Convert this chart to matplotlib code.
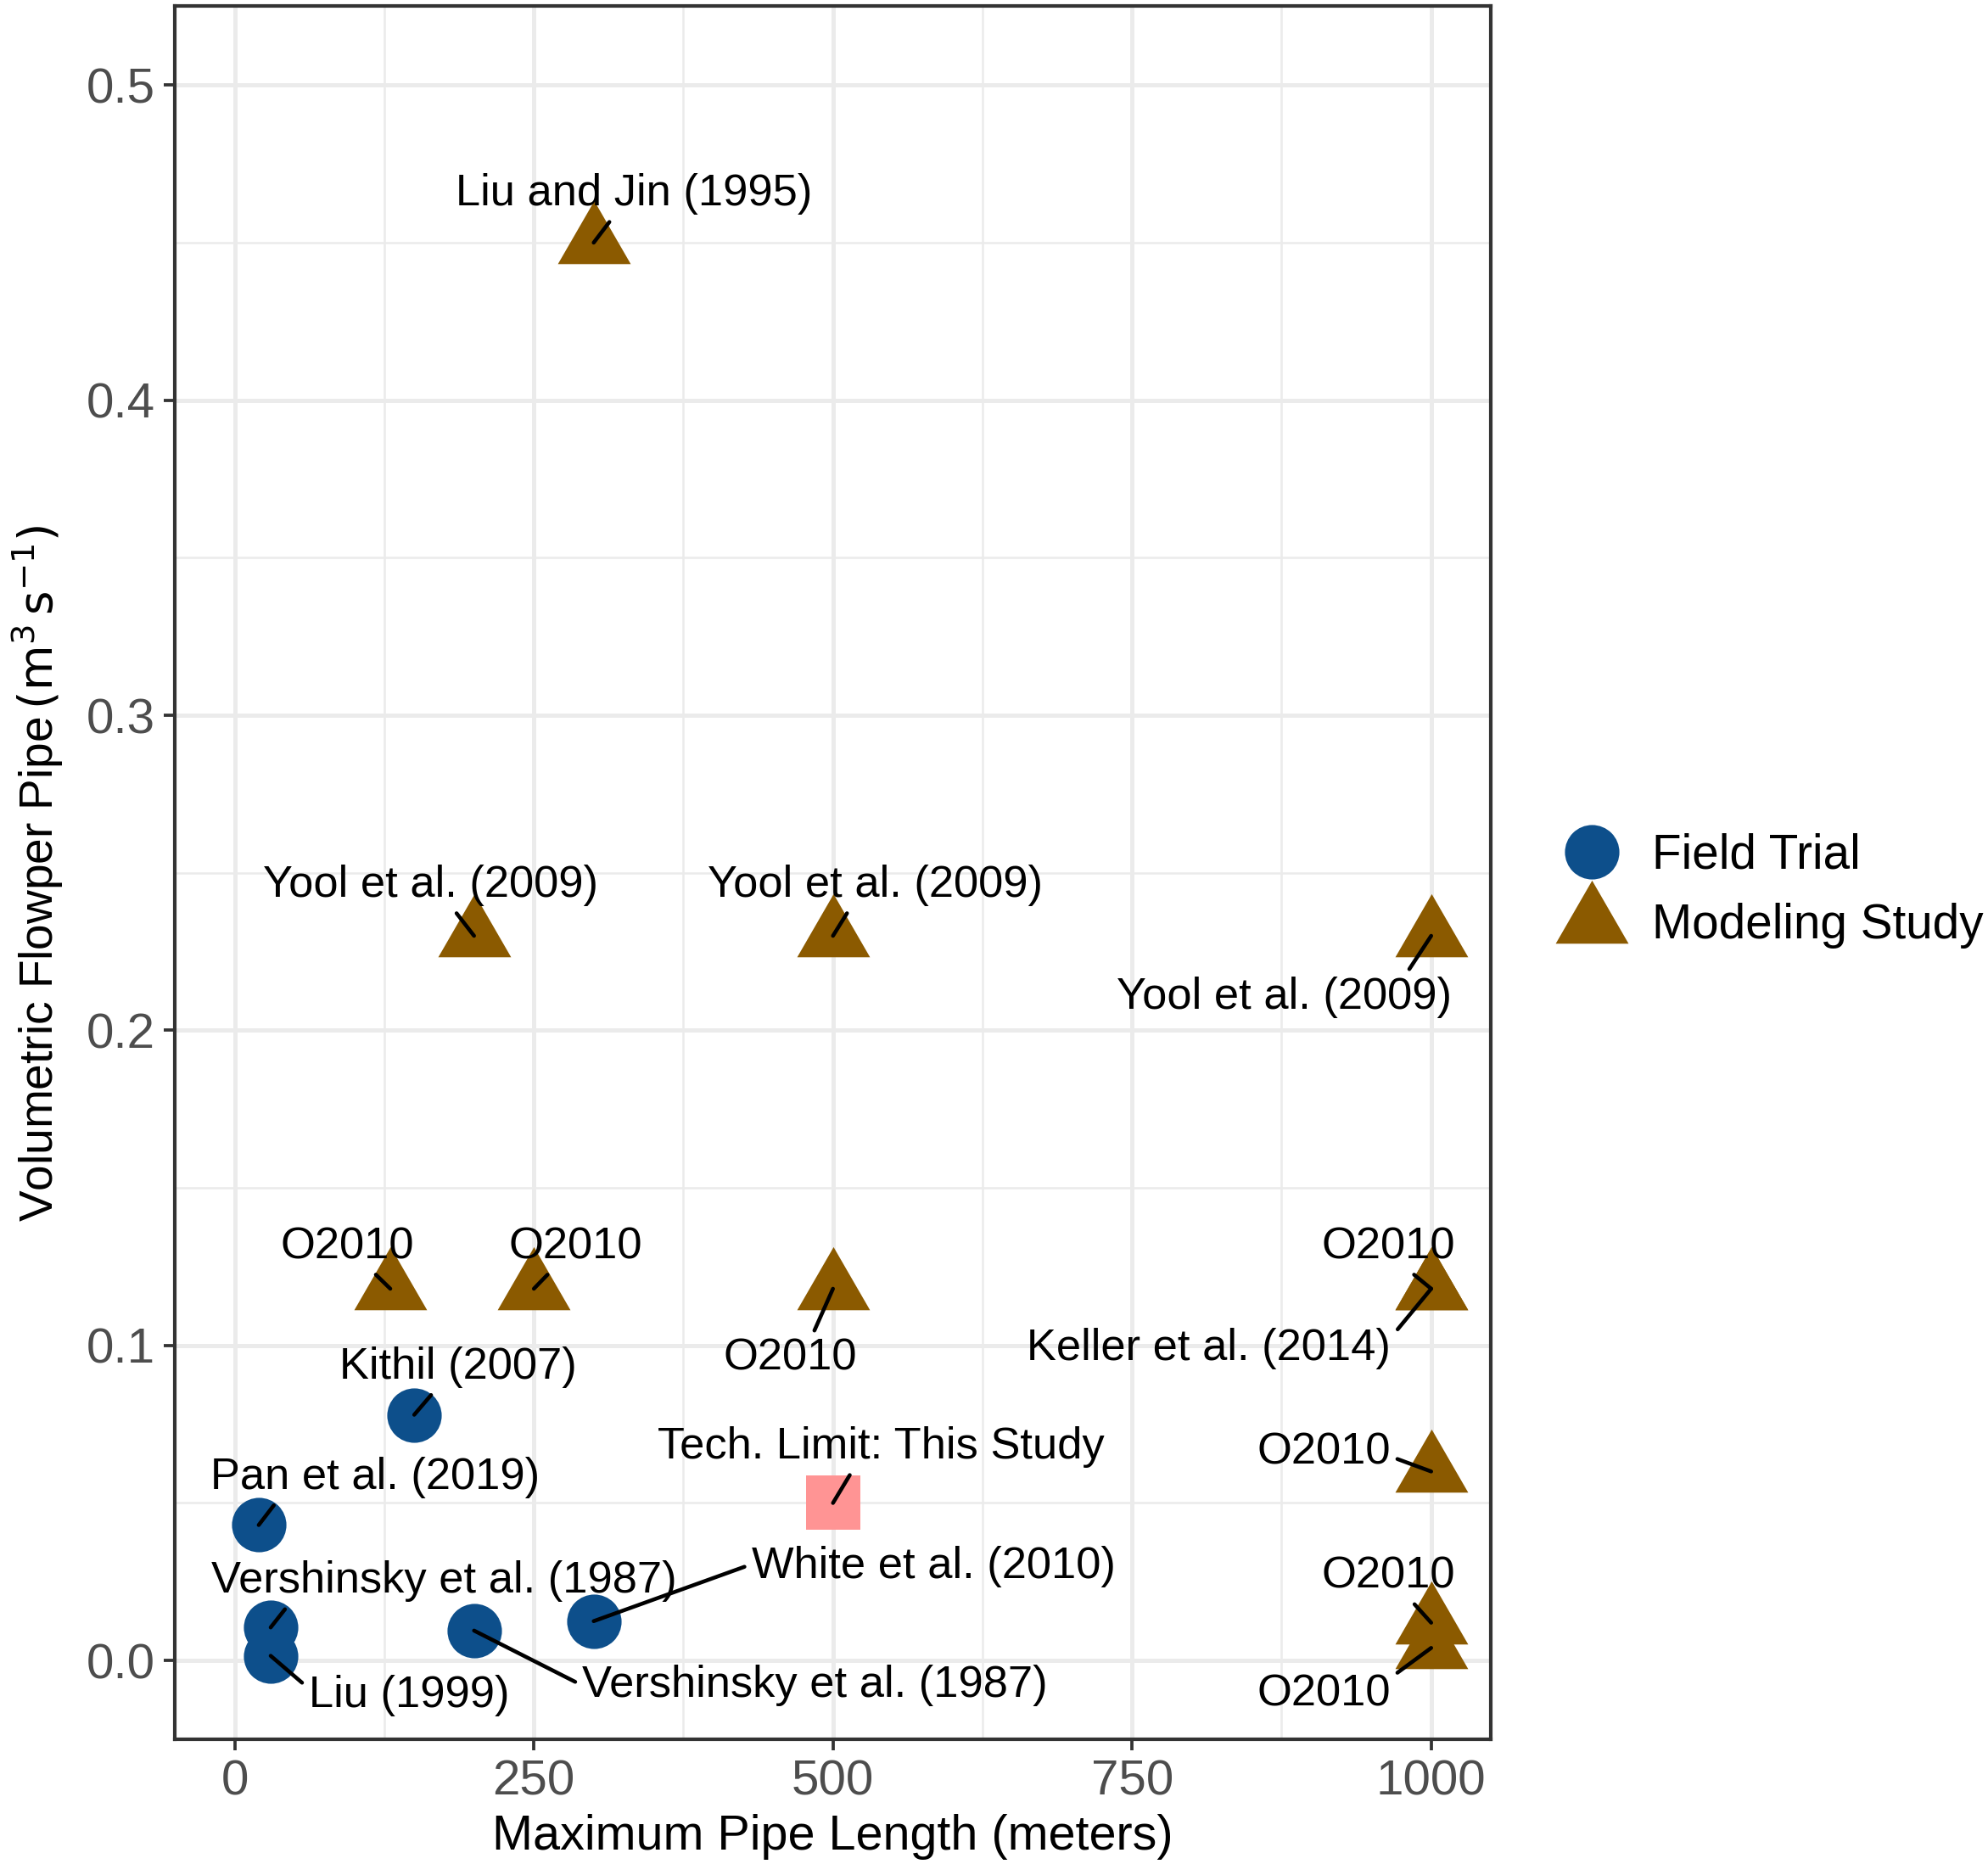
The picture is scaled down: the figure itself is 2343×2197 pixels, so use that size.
"""
Pipe flow vs. pipe length scatter with repelled-style labels,
redrawn in matplotlib.
"""

import matplotlib.pyplot as plt
from matplotlib.lines import Line2D
from matplotlib.ticker import MultipleLocator

plt.rcParams["font.family"] = ["Liberation Sans", "DejaVu Sans"]

# --- data -------------------------------------------------------------
field_x = [20, 150, 30, 30, 200, 300]
field_y = [0.043, 0.078, 0.0105, 0.0015, 0.0095, 0.0125]
field_labels = ["Pan et al. (2019)", "Kithil (2007)", "Vershinsky et al. (1987)",
                "Liu (1999)", "Vershinsky et al. (1987)", "White et al. (2010)"]

model_x = [300, 200, 500, 1000, 130, 250, 500, 1000, 1000, 1000, 1000, 1000]
model_y = [0.45, 0.23, 0.23, 0.23, 0.118, 0.118, 0.118, 0.118, 0.118,
           0.06, 0.012, 0.004]
model_labels = ["Liu and Jin (1995)", "Yool et al. (2009)", "Yool et al. (2009)",
                "Yool et al. (2009)", "O2010", "O2010", "O2010", "O2010",
                "Keller et al. (2014)", "O2010", "O2010", "O2010"]

limit_x = [500]
limit_y = [0.05]
limit_labels = ["Tech. Limit: This Study"]

# label placement (data coords) and where the leader line leaves the label box
field_text_pos = [(117, 0.0581), (187, 0.0931), (175, 0.0251),
                  (146, -0.0112), (485, -0.0079), (584, 0.0299)]
field_relpos = [(0.21, 0.0), (0.41, 0.0), (0.17, 0.0),
                (0.0, 0.67), (0.0, 0.5), (0.0, 0.55)]
model_text_pos = [(334, 0.4654), (164, 0.2460), (535, 0.2460), (877, 0.2106),
                  (94, 0.1313), (285, 0.1313), (464, 0.0959), (964, 0.1313),
                  (814, 0.0991), (910, 0.0661), (964, 0.0267), (910, -0.0108)]
model_relpos = [(0.445, 0.0), (0.56, 0.0), (0.43, 0.0), (0.86, 1.0),
                (0.66, 0.0), (0.34, 0.0), (0.66, 1.0), (0.63, 0.0),
                (1.0, 0.75), (1.0, 0.4), (0.65, 0.0), (1.0, 0.9)]
limit_text_pos = [(540, 0.0677)]
limit_relpos = [(0.44, 0.0)]

x_ticks = [0, 250, 500, 750, 1000]
y_ticks = [0.0, 0.1, 0.2, 0.3, 0.4, 0.5]

# --- style --------------------------------------------------------------
BLUE = "#0D4F8B"
BROWN = "#8B5A00"
PINK = "#FF9494"
TRI = [(0, 1), (-0.866, -0.5), (0.866, -0.5), (0, 1)]
CIRCLE_PT = 15.4
TRI_PT = 23.8
SQUARE_PT = 15.4
LABEL_FS = 12.6

fig = plt.figure(figsize=(2343 / 300, 2197 / 300), dpi=300)
ax = fig.add_axes([0.088, 0.0669, 0.662, 0.9297])

ax.set_xlim(-50, 1050)
ax.set_ylim(-0.025, 0.525)
ax.set_xticks(x_ticks)
ax.set_yticks(y_ticks)
ax.set_yticklabels([f"{v:.1f}" for v in y_ticks])
ax.xaxis.set_minor_locator(MultipleLocator(125))
ax.yaxis.set_minor_locator(MultipleLocator(0.05))

ax.grid(which="major", color="#EBEBEB", lw=1.2, zorder=0)
ax.grid(which="minor", color="#EBEBEB", lw=0.6, zorder=0)
ax.set_axisbelow(True)
for sp in ax.spines.values():
    sp.set_color("#333333")
    sp.set_linewidth(1.0)
ax.tick_params(which="major", length=3.2, width=0.9, color="#333333",
               labelsize=14, labelcolor="#4D4D4D", pad=2.5)
ax.tick_params(which="minor", length=0)

ax.scatter(field_x, field_y, s=CIRCLE_PT ** 2, marker="o", color=BLUE,
           linewidths=0, zorder=2)
ax.scatter(model_x, model_y, s=TRI_PT ** 2, marker=TRI, color=BROWN,
           linewidths=0, zorder=2)
ax.scatter(limit_x, limit_y, s=SQUARE_PT ** 2, marker="s", color=PINK,
           linewidths=0, zorder=2)


def add_labels(xs, ys, labels, positions, relpos):
    for x, y, lab, (tx, ty), rp in zip(xs, ys, labels, positions, relpos):
        ax.annotate(lab, xy=(x, y), xytext=(tx, ty), textcoords="data",
                    ha="center", va="center", fontsize=LABEL_FS, color="black",
                    zorder=4,
                    arrowprops=dict(arrowstyle="-", color="black", lw=1.1,
                                    shrinkA=0, shrinkB=0, relpos=rp))


add_labels(field_x, field_y, field_labels, field_text_pos, field_relpos)
add_labels(model_x, model_y, model_labels, model_text_pos, model_relpos)
add_labels(limit_x, limit_y, limit_labels, limit_text_pos, limit_relpos)

ax.set_xlabel("Maximum Pipe Length (meters)", fontsize=13.8, va="center")
ax.xaxis.set_label_coords(0.5, -0.0563)
ax.set_ylabel(r"Volumetric Flowper Pipe$\,(\mathrm{m}^{3}\,\mathrm{s}^{-1})$",
              fontsize=13.2)
ax.yaxis.set_label_coords(-0.083, 0.5)

handles = [
    Line2D([], [], ls="none", marker="o", markersize=CIRCLE_PT,
           markerfacecolor=BLUE, markeredgewidth=0),
    Line2D([], [], ls="none", marker=TRI, markersize=TRI_PT,
           markerfacecolor=BROWN, markeredgewidth=0),
]
ax.legend(handles, ["Field Trial", "Modeling Study"], loc="center left",
          bbox_to_anchor=(0.7813, 0.5221), bbox_transform=fig.transFigure,
          frameon=False, fontsize=13.6, handlelength=1.6, handletextpad=0.45,
          labelspacing=0.51, borderpad=0, borderaxespad=0)

fig.savefig("out.png", dpi=300)
